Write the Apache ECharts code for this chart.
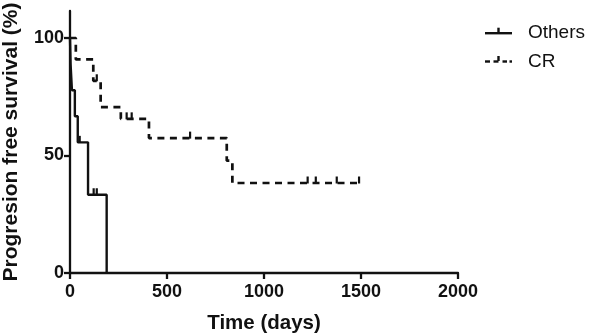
<!DOCTYPE html>
<html>
<head>
<meta charset="utf-8">
<script src="https://cdn.jsdelivr.net/npm/echarts@6/dist/echarts.min.js"></script>
<style>
  html, body { margin: 0; padding: 0; background: #fff; }
  #chart { width: 590px; height: 335px; }
</style>
</head>
<body>
<div id="chart"></div>
<script>
// Kaplan-Meier steps (days, % surviving)
const othersDays = [0, 3, 10, 25, 40, 93, 189];
const othersSurv = [100, 88.9, 77.8, 66.7, 55.6, 33.3, 0];
const othersCensorDays = [50, 122, 138];
const othersCensorSurv = [55.6, 33.3, 33.3];

const crDays = [0, 30, 120, 158, 262, 407, 808, 837, 1490];
const crSurv = [100, 90.9, 81.8, 70.6, 65.6, 57.4, 47.8, 38.3, 38.3];
const crCensorDays = [138, 292, 318, 619, 1225, 1267, 1375, 1490];
const crCensorSurv = [81.8, 65.6, 65.6, 57.4, 38.3, 38.3, 38.3, 38.3];

const yTicks = [0, 50, 100];

function pairs(xs, ys) {
    let out = [];
    for (let i = 0; i < xs.length; i++) {
        out.push([xs[i], ys[i]]);
    }
    return out;
}

const font = 'Liberation Sans, Arial, sans-serif';
const ink = '#111';

// legend icons as small svg images so the line sits in the middle, tick above it
function svgIcon(body) {
    let svg = '<svg xmlns="http://www.w3.org/2000/svg" width="27" height="14" viewBox="0 0 27 14">' +
        '<g fill="#111">' + body + '</g></svg>';
    return 'image://data:image/svg+xml;charset=utf-8,' + encodeURIComponent(svg);
}
const solidIcon = svgIcon('<rect x="0" y="5.8" width="27" height="2.4"/><rect x="12.3" y="1.5" width="2.4" height="5"/>');
const dashIcon = svgIcon('<rect x="0" y="5.8" width="5" height="2.4"/><rect x="8.5" y="5.8" width="5" height="2.4"/>' +
    '<rect x="12.3" y="1.5" width="2.4" height="5"/><rect x="17.5" y="5.8" width="4.5" height="2.4"/>' +
    '<rect x="24.5" y="5.8" width="2.5" height="2.4"/>');

let option = {
    animation: false,
    grid: { left: 70, right: 132, top: 11, bottom: 62, outerBoundsMode: 'none', containLabel: false },
    legend: {
        data: [
            { name: 'Others', icon: solidIcon },
            { name: 'CR', icon: dashIcon }
        ],
        orient: 'vertical',
        left: 480,
        top: 18.7,
        itemWidth: 27,
        itemHeight: 14,
        itemGap: 9.3,
        textStyle: { fontFamily: font, fontSize: 19, color: ink, padding: [0, 0, 0, 11] },
        selectedMode: false
    },
    xAxis: {
        type: 'value',
        min: 0,
        max: 2000,
        interval: 500,
        name: 'Time (days)',
        nameLocation: 'middle',
        nameGap: 40,
        nameTextStyle: { fontFamily: font, fontSize: 20.5, fontWeight: 'bold', color: ink },
        splitLine: { show: false },
        axisLine: { lineStyle: { color: ink, width: 2.3 } },
        axisTick: { length: 6, lineStyle: { color: ink, width: 2.3 } },
        axisLabel: {
            fontFamily: font, fontSize: 18, fontWeight: 'bold', color: ink, margin: 10,
            formatter: function (v) { return String(v); }
        }
    },
    yAxis: {
        type: 'value',
        min: 0,
        max: 111.5,
        name: 'Progresion free survival (%)',
        nameLocation: 'middle',
        nameGap: 48,
        nameTextStyle: { fontFamily: font, fontSize: 21, fontWeight: 'bold', color: ink },
        splitLine: { show: false },
        axisLine: { show: true, lineStyle: { color: ink, width: 2.3 } },
        axisTick: { show: true, length: 6, lineStyle: { color: ink, width: 2.3 }, customValues: yTicks },
        axisLabel: {
            fontFamily: font, fontSize: 18, fontWeight: 'bold', color: ink, margin: 6,
            customValues: yTicks
        }
    },
    series: [
        {
            name: 'Others',
            type: 'line',
            step: 'end',
            showSymbol: false,
            symbol: 'none',
            color: ink,
            lineStyle: { color: ink, width: 2.4 },
            data: pairs(othersDays, othersSurv)
        },
        {
            name: 'CR',
            type: 'line',
            step: 'end',
            showSymbol: false,
            symbol: 'none',
            color: ink,
            lineStyle: { color: ink, width: 2.7, type: [7, 5.5] },
            data: pairs(crDays, crSurv)
        },
        {
            name: 'Others censored',
            type: 'scatter',
            symbol: 'rect',
            symbolSize: [2.2, 7],
            symbolOffset: [0, -3],
            itemStyle: { color: ink, opacity: 1 },
            data: pairs(othersCensorDays, othersCensorSurv)
        },
        {
            name: 'CR censored',
            type: 'scatter',
            symbol: 'rect',
            symbolSize: [2.2, 7],
            symbolOffset: [0, -3],
            itemStyle: { color: ink, opacity: 1 },
            data: pairs(crCensorDays, crCensorSurv)
        }
    ]
};

let chart = echarts.init(document.getElementById('chart'));
chart.setOption(option);
</script>
</body>
</html>
